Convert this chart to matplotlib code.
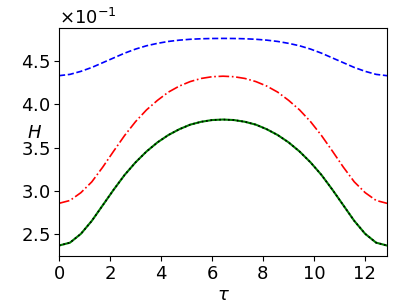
import numpy as np
import matplotlib
matplotlib.use("Agg")
import matplotlib.pyplot as plt

# sample times (tau) and H values
tau = [0.0, 0.429, 0.858, 1.287, 1.716, 2.145, 2.574, 3.003, 3.432, 3.861,
       4.29, 4.719, 5.148, 5.577, 6.006, 6.435, 6.864, 7.293, 7.722, 8.151,
       8.58, 9.009, 9.438, 9.867, 10.296, 10.725, 11.154, 11.583, 12.012,
       12.441, 12.87]

h_blue = [4.330, 4.345, 4.380, 4.425, 4.480, 4.535, 4.590, 4.637, 4.675, 4.703,
          4.725, 4.740, 4.750, 4.756, 4.759, 4.760, 4.759, 4.756, 4.750, 4.740,
          4.725, 4.703, 4.675, 4.637, 4.590, 4.535, 4.480, 4.425, 4.380, 4.345,
          4.330]

h_red = [2.857, 2.890, 2.980, 3.105, 3.275, 3.460, 3.640, 3.800, 3.935, 4.045,
         4.140, 4.210, 4.262, 4.298, 4.318, 4.324, 4.318, 4.298, 4.262, 4.210,
         4.140, 4.045, 3.935, 3.800, 3.640, 3.460, 3.275, 3.105, 2.980, 2.890,
         2.857]

h_green = [2.370, 2.403, 2.505, 2.655, 2.835, 3.015, 3.185, 3.330, 3.455, 3.560,
           3.645, 3.712, 3.765, 3.798, 3.818, 3.824, 3.818, 3.798, 3.765, 3.712,
           3.645, 3.560, 3.455, 3.330, 3.185, 3.015, 2.835, 2.655, 2.505, 2.403,
           2.370]

tau = np.array(tau)
fig = plt.figure(figsize=(4.07, 3.05), dpi=100)
ax = fig.add_axes([0.145, 0.161, 0.806, 0.747])

ax.plot(tau, np.array(h_blue) / 10, 'b--', lw=1.2)
ax.plot(tau, np.array(h_red) / 10, 'r-.', lw=1.2)
ax.plot(tau, np.array(h_green) / 10, 'g-', lw=1.5)
ax.plot(tau, np.array(h_green) / 10, 'k:', lw=1.2)

ax.set_xlim(0, 12.87)
ax.set_xticks([0, 2, 4, 6, 8, 10, 12])
ax.ticklabel_format(axis='y', style='sci', scilimits=(0, 0), useMathText=True)
ax.tick_params(labelsize=13, pad=3)
ax.yaxis.get_offset_text().set_fontsize(13)
ax.set_xlabel(r'$\tau$', fontsize=13)
ax.set_ylabel(r'$H$', fontsize=13, rotation=0)
ax.xaxis.set_label_coords(0.5, -0.13)
ax.yaxis.set_label_coords(-0.075, 0.50)

fig.savefig('out.png', dpi=100)
